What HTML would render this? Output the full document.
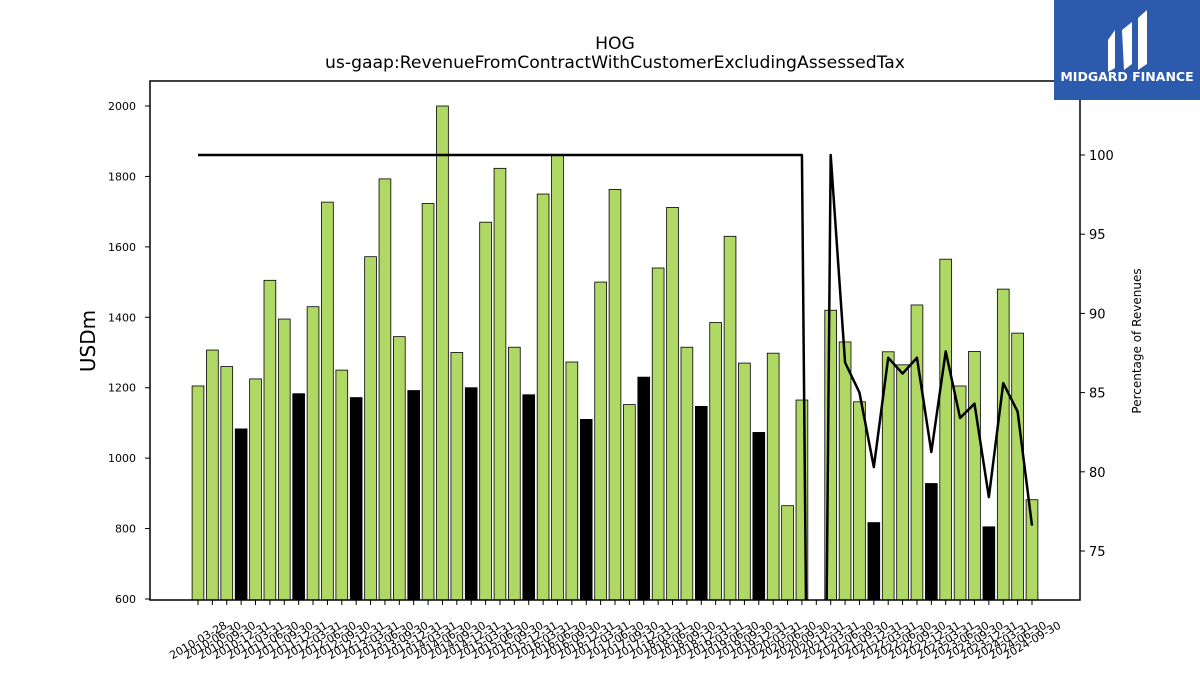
<!DOCTYPE html>
<html><head><meta charset="utf-8"><style>
html,body{margin:0;background:#fff;font-family:"Liberation Sans","DejaVu Sans",sans-serif;overflow:hidden;width:1200px;height:675px}
svg{display:block}
svg text{font-family:"DejaVu Sans","Liberation Sans",sans-serif}
</style></head><body>
<svg id="chart" width="1200" height="675" xmlns="http://www.w3.org/2000/svg">
<rect width="1200" height="675" fill="#fff"/>
<text x="615" y="49" text-anchor="middle" font-size="17.2">HOG</text>
<text x="615" y="68" text-anchor="middle" font-size="17.2">us-gaap:RevenueFromContractWithCustomerExcludingAssessedTax</text>
<text transform="translate(95,341) rotate(-90)" text-anchor="middle" font-size="20">USDm</text>
<text transform="translate(1141,341) rotate(-90)" text-anchor="middle" font-size="12">Percentage of Revenues</text>
<defs><clipPath id="pc"><rect x="150" y="81" width="930" height="519"/></clipPath></defs>
<g id="bars"></g>
<g id="line" clip-path="url(#pc)"></g>
<g id="axes"></g>
<rect x="150" y="81" width="930" height="519" fill="none" stroke="#000" stroke-width="1.5"/>
<g>
<rect x="1054" y="0" width="146" height="100" fill="#2c5aad"/>
<path d="M1108 40 L1115 30 L1115 68 L1108 72 Z M1122 30 L1132 22 L1132 64 L1124 70 Z M1138 18 L1147 10 L1147 64 L1138 70 Z" fill="#fff"/>
<text x="1127" y="81" text-anchor="middle" font-size="12.5" font-weight="bold" fill="#fff" font-family="Liberation Sans">MIDGARD FINANCE</text>
</g>
</svg>
<script>
const revenue=[1205,1307,1260,1083,1225,1505,1395,1183,1430,1727,1250,1172,1572,1793,1345,1192,1723,2000,1300,1200,1670,1823,1315,1180,1750,1860,1273,1110,1500,1763,1152,1230,1540,1712,1315,1147,1385,1630,1270,1073,1298,865,1165,null,1420,1330,1160,817,1302,1265,1435,928,1565,1205,1303,805,1480,1355,882];
const pct=[100,100,100,100,100,100,100,100,100,100,100,100,100,100,100,100,100,100,100,100,100,100,100,100,100,100,100,100,100,100,100,100,100,100,100,100,100,100,100,100,100,100,100,0,100,86.9,85.0,80.3,87.2,86.2,87.2,81.25,87.6,83.4,84.3,78.4,85.6,83.8,76.6];
const leftTicks=[600,800,1000,1200,1400,1600,1800,2000];
const rightTicks=[75,80,85,90,95,100];
const qEnds=["03-31","06-30","09-30","12-31"];
const dates=revenue.map((v,i)=>(2010+Math.floor(i/4))+"-"+qEnds[i%4]);
dates[0]="2010-03-28";
const NS="http://www.w3.org/2000/svg";
const X=i=>198+i*(1032-198)/58;
const YL=v=>106+(2000-v)*(599-106)/1400;
const YR=v=>155+(100-v)*(551-155)/25;
function mk(t,a,p){const e=document.createElementNS(NS,t);for(const k in a)e.setAttribute(k,a[k]);p.appendChild(e);return e;}
const bars=document.getElementById('bars'),ax=document.getElementById('axes'),ln=document.getElementById('line');
revenue.forEach((v,i)=>{
 if(v==null)return;
 const y=YL(v);
 const r=mk('rect',{x:X(i)-5.9,y:y,width:11.8,height:600-y,fill:(i%4==3)?'#000':'#b0d865',stroke:'#000','stroke-width':0.8},bars);
 
 
});
const pts=pct.map((v,i)=>X(i)+','+YR(v)).join(' ');
const pl=mk('polyline',{points:pts,fill:'none',stroke:'#000','stroke-width':2.5,'stroke-linejoin':'round'},ln);


leftTicks.forEach(v=>{
 const y=YL(v);
 mk('line',{x1:145,x2:150,y1:y,y2:y,stroke:'#000'},ax);
 const t=mk('text',{x:136,y:y+4,'text-anchor':'end','font-size':11},ax);t.textContent=v;
 
 
});
rightTicks.forEach(v=>{
 const y=YR(v);
 mk('line',{x1:1080,x2:1085,y1:y,y2:y,stroke:'#000'},ax);
 const t=mk('text',{x:1089,y:y+5,'font-size':13},ax);t.textContent=v;
 
 
});
dates.forEach((d,i)=>{
 const x=X(i);
 mk('line',{x1:x,x2:x,y1:600,y2:605,stroke:'#000'},ax);
 const t=mk('text',{transform:`translate(${x},${640}) rotate(-30)`,'text-anchor':'middle','font-size':11,dy:4},ax);t.textContent=d;
 
 
});
</script>
</body></html>
